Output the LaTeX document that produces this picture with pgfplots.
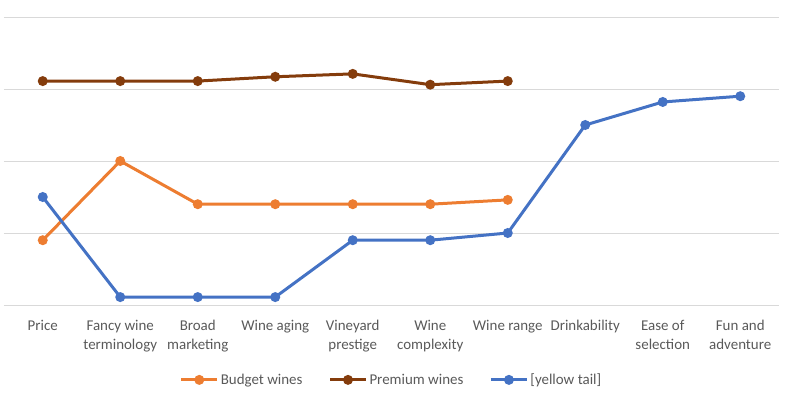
\documentclass[border=0pt]{standalone}
\usepackage{pgfplots}
\pgfplotsset{compat=1.18}
\usepackage{fontspec}
\setmainfont{Carlito}
\usetikzlibrary{calc}
\definecolor{budget}{HTML}{ED7D31}
\definecolor{premium}{HTML}{843C0C}
\definecolor{yt}{HTML}{4472C4}
\definecolor{txt}{HTML}{595959}
\definecolor{gridc}{HTML}{D9D9D9}
\begin{document}
\begin{tikzpicture}[x=1bp,y=1bp]
\begin{axis}[
  scale only axis,
  width=775bp, height=288bp,
  xmin=-0.5, xmax=9.5, ymin=0, ymax=4,
  xtick={0,...,9},
  xticklabels={Price, Fancy wine\\terminology, Broad\\marketing, Wine aging, Vineyard\\prestige, Wine\\complexity, Wine range, Drinkability, Ease of\\selection, Fun and\\adventure},
  xticklabel style={align=center, font=\fontsize{15}{19}\selectfont, text=txt, yshift=-12bp},
  ytick={0,1,2,3,4}, yticklabels={},
  major tick length=0pt,
  ymajorgrids, xmajorgrids=false,
  y grid style={gridc, line width=0.9bp},
  axis line style={draw=none},
  legend columns=3,
  legend style={at={(0.5,-0.26)}, anchor=center, draw=none, font=\fontsize{15}{17}\selectfont, text=txt, /tikz/every even column/.append style={column sep=24bp}},
  legend image code/.code={\draw[#1] (0bp,0bp) -- (36bp,0bp); \draw[#1, mark repeat=1] plot coordinates {(18bp,0bp)};},
  every axis plot/.append style={line width=3bp, mark=*, mark size=3.4bp},
  clip=false,
]
\coordinate (bl) at (rel axis cs:0,0);
\addplot[budget, mark options={fill=budget, draw=budget}] coordinates {(0,0.90) (1,2.0) (2,1.40) (3,1.40) (4,1.40) (5,1.40) (6,1.46)};
\addlegendentry{Budget wines}
\addplot[premium, mark options={fill=premium, draw=premium}] coordinates {(0,3.11) (1,3.11) (2,3.11) (3,3.17) (4,3.21) (5,3.06) (6,3.11)};
\addlegendentry{Premium wines}
\addplot[yt, mark options={fill=yt, draw=yt}] coordinates {(0,1.50) (1,0.11) (2,0.11) (3,0.11) (4,0.90) (5,0.90) (6,1.00) (7,2.50) (8,2.82) (9,2.90)};
\addlegendentry{[yellow tail]}
\end{axis}
\pgfresetboundingbox
\path[use as bounding box] ($(bl)+(-4bp,-94bp)$) rectangle ($(bl)+(783bp,305bp)$);
\end{tikzpicture}
\end{document}
